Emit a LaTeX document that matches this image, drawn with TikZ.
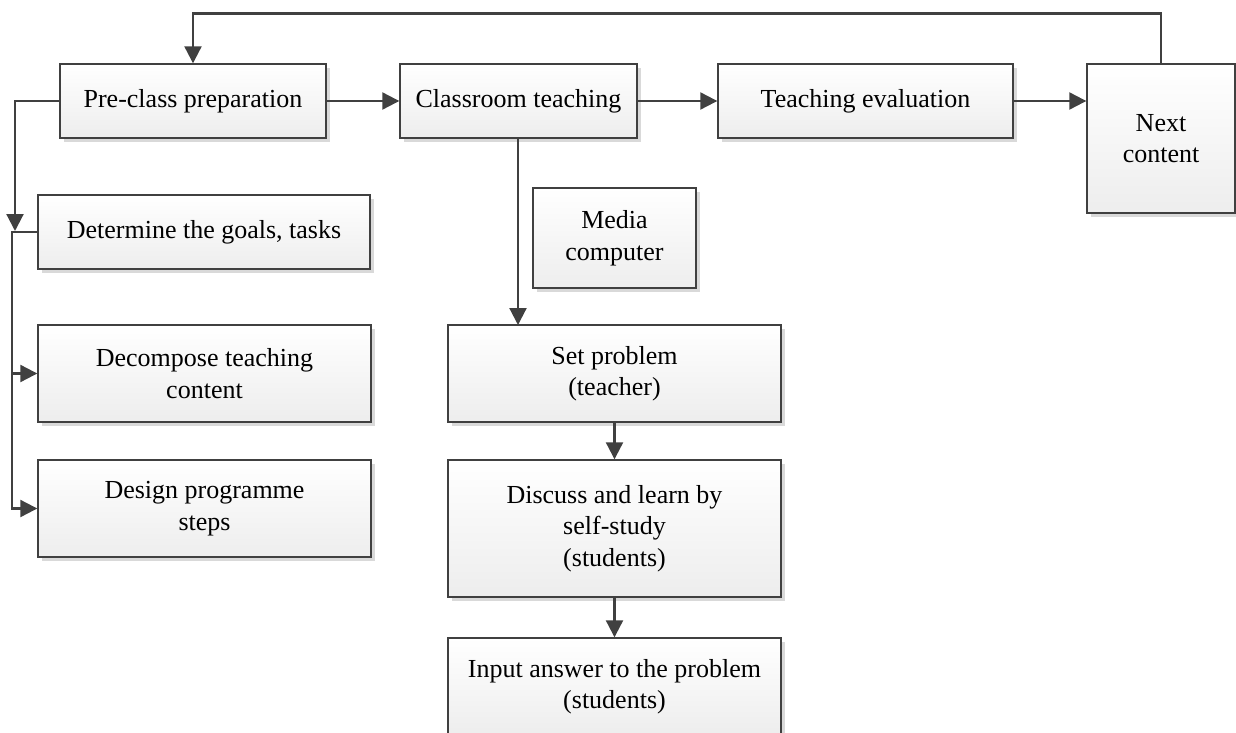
\documentclass[tikz,border=0pt]{standalone}
\usepackage{fontspec}
\setmainfont{Liberation Serif}
\usetikzlibrary{arrows.meta,shadows}
\definecolor{linec}{HTML}{404040}
\definecolor{shadowc}{HTML}{D9D9D9}
\begin{document}
\begin{tikzpicture}[x=1pt,y=-1pt,
  box/.style={draw=linec,line width=1.4pt,top color=white,bottom color=black!7,
    drop shadow={shadow xshift=4pt,shadow yshift=-4pt,fill=shadowc,opacity=1},
    inner sep=0pt,align=center,font=\fontsize{26}{31.5}\selectfont},
  conn/.style={draw=linec,line width=2.2pt},
  arr/.style={conn,-{Triangle[length=17pt,width=17pt]}}]
\useasboundingbox (0,0) rectangle (1236,733);
\node[box,minimum width=266pt,minimum height=74pt] (pre) at (193,101) {Pre-class preparation};
\node[box,minimum width=237pt,minimum height=74pt] (cls) at (518.5,101) {Classroom teaching};
\node[box,minimum width=295pt,minimum height=74pt] (eval) at (865.5,101) {Teaching evaluation};
\node[box,minimum width=148pt,minimum height=149pt] (next) at (1161,138.5) {Next\\content};
\node[box,minimum width=332pt,minimum height=74pt] (det) at (204,232) {Determine the goals, tasks};
\node[box,minimum width=333pt,minimum height=97pt] (dec) at (204.5,373.5) {Decompose teaching\\content};
\node[box,minimum width=333pt,minimum height=97pt] (des) at (204.5,508.5) {Design programme\\steps};
\node[box,minimum width=163pt,minimum height=100pt] (media) at (614.5,238) {Media\\computer};
\node[box,minimum width=333pt,minimum height=97pt] (set) at (614.5,373.5) {Set problem\\(teacher)};
\node[box,minimum width=333pt,minimum height=137pt] (disc) at (614.5,528.5) {Discuss and learn by\\self-study\\(students)};
\node[box,minimum width=333pt,minimum height=97pt] (inp) at (614.5,686.5) {Input answer to the problem\\(students)};
\coordinate (topr) at (1161,13.5);
\coordinate (topl) at (193,13.5);
\coordinate (lj) at (15,101);
\coordinate (lja) at (15,231);
\coordinate (lk) at (12,232);
\coordinate (lkb) at (12,508.5);
\coordinate (lkm) at (12,373.5);
\coordinate (cdrop) at (518,138);
\coordinate (cset) at (518,325);
\draw[arr] (pre.east) -- (cls.west);
\draw[arr] (cls.east) -- (eval.west);
\draw[arr] (eval.east) -- (eval.east -| next.west);
\draw[arr] (next.north) -- (topr) -- (topl) -- (pre.north);
\draw[arr] (pre.west) -- (lj) -- (lja);
\draw[arr] (det.west) -- (lk) -- (lkb) -- (des.west);
\draw[arr] (lkm) -- (dec.west);
\draw[arr] (cdrop) -- (cset);
\draw[arr] (set.south) -- (disc.north);
\draw[arr] (disc.south) -- (inp.north);
\end{tikzpicture}
\end{document}
